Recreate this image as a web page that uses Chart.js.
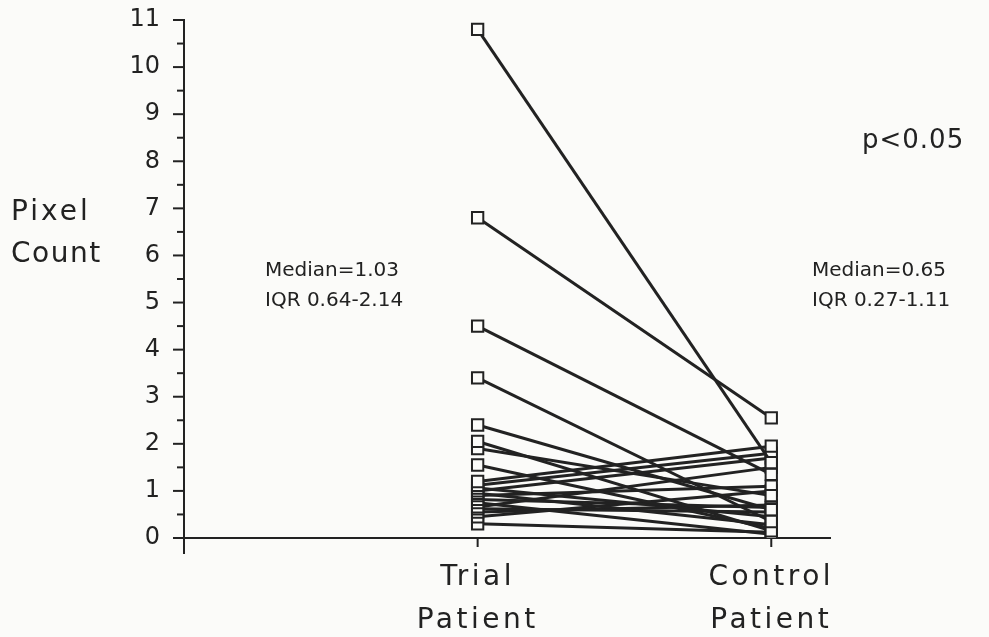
<html lang="en">
<head>
  <meta charset="UTF-8">
  <title>Pixel Count: Trial vs Control</title>
  <style>
    html, body { margin: 0; padding: 0; background: #fbfbf9; }
    #wrap { width: 989px; height: 637px; }
  </style>
  <script src="https://cdn.jsdelivr.net/npm/chart.js@4.4.1/dist/chart.umd.min.js"></script>
</head>
<body>
  <div id="wrap"><canvas id="pairChart" width="989" height="637"></canvas></div>
  <script>
    // paired readings, one entry per patient pair
    const categories = [["Trial", "Patient"], ["Control", "Patient"]]
    const trialValues = [10.8, 6.8, 4.5, 3.4, 2.4, 2.05, 1.9, 1.55, 1.2, 1.12, 1.06, 1.0, 0.95, 0.9, 0.82, 0.75, 0.66, 0.62, 0.55, 0.45, 0.3]
    const controlValues = [1.6, 2.55, 1.35, 0.35, 0.6, 0.15, 0.9, 0.2, 1.95, 1.8, 0.45, 1.7, 0.28, 1.1, 0.65, 0.08, 1.5, 0.55, 0.7, 1.0, 0.12]
    const yTickValues = [0, 1, 2, 3, 4, 5, 6, 7, 8, 9, 10, 11]
    const trialNote = ["Median=1.03", "IQR 0.64-2.14"]
    const controlNote = ["Median=0.65", "IQR 0.27-1.11"]
    const pNote = "p<0.05"
    const yTitle = ["Pixel", "Count"]

    const ink = "#222"
    const font = "'DejaVu Sans', Verdana, sans-serif"

    const datasets = trialValues.map((t, i) => ({
      data: [{ x: 1, y: t }, { x: 2, y: controlValues[i] }],
      borderColor: ink,
      borderWidth: 3,
      pointStyle: "rect",
      pointRadius: 8,
      pointBorderWidth: 2,
      pointBorderColor: ink,
      pointBackgroundColor: "#fbfbf9",
      tension: 0,
    }))

    // minor/major ticks, axis stub and the free text on the plot
    const decorations = {
      id: "decorations",
      beforeDraw(chart) {
        // wide spacing for the category labels (x ticks drawn before datasets)
        chart.ctx.letterSpacing = "3.5px"
      },
      afterDatasetsDraw(chart) {
        chart.ctx.letterSpacing = "0px"
      },
      afterDraw(chart) {
        const ctx = chart.ctx
        const xs = chart.scales.x
        const ys = chart.scales.y
        const left = chart.chartArea.left
        const bottom = chart.chartArea.bottom
        ctx.save()
        ctx.strokeStyle = ink
        ctx.lineWidth = 2
        // y axis runs a bit under the x axis
        ctx.beginPath()
        ctx.moveTo(left, bottom)
        ctx.lineTo(left, bottom + 16)
        ctx.stroke()
        for (let v = 0; v <= 11; v += 0.5) {
          const py = ys.getPixelForValue(v)
          const len = Number.isInteger(v) ? 11 : 7
          ctx.beginPath()
          ctx.moveTo(left - len, py)
          ctx.lineTo(left, py)
          ctx.stroke()
        }
        categories.forEach((c, i) => {
          const px = xs.getPixelForValue(i + 1)
          ctx.beginPath()
          ctx.moveTo(px, bottom)
          ctx.lineTo(px, bottom + 9)
          ctx.stroke()
        })

        ctx.fillStyle = ink
        ctx.textBaseline = "middle"
        ctx.textAlign = "left"
        ctx.letterSpacing = "3px"
        ctx.font = "28px " + font
        ctx.fillText(yTitle[0], 11, 213)
        ctx.letterSpacing = "1.5px"
        ctx.fillText(yTitle[1], 11, 255)
        ctx.letterSpacing = "0px"
        ctx.font = "20px " + font
        ctx.fillText(trialNote[0], 265, 271)
        ctx.fillText(trialNote[1], 265, 301)
        ctx.fillText(controlNote[0], 812, 271)
        ctx.fillText(controlNote[1], 812, 301)
        ctx.letterSpacing = "1px"
        ctx.font = "26px " + font
        ctx.fillText(pNote, 862, 141)
        ctx.restore()
      }
    }

    const chart = new Chart(document.getElementById("pairChart"), {
      type: "line",
      data: { datasets },
      options: {
        responsive: false,
        animation: false,
        layout: { autoPadding: false, padding: { top: 20, right: 159, left: 0, bottom: 0 } },
        plugins: { legend: { display: false }, tooltip: { enabled: false } },
        scales: {
          x: {
            type: "linear",
            min: 0,
            max: 2.2,
            afterFit: (s) => { s.height = 99 },
            afterBuildTicks: (s) => { s.ticks = categories.map((c, i) => ({ value: i + 1 })) },
            ticks: {
              color: ink,
              font: { family: font, size: 28, lineHeight: 1.55 },
              padding: 18,
              maxRotation: 0,
              callback: (v) => categories[v - 1],
            },
            grid: { display: false, drawTicks: false },
            border: { display: true, color: ink, width: 2 },
          },
          y: {
            min: 0,
            max: 11,
            afterFit: (s) => {
              s.width = 184
              s.paddingTop = 0
              s.paddingBottom = 0
            },
            afterBuildTicks: (s) => { s.ticks = yTickValues.map((v) => ({ value: v })) },
            ticks: {
              color: ink,
              font: { family: font, size: 24 },
              padding: 24,
              z: 1,
            },
            grid: { display: false, drawTicks: false },
            border: { display: true, color: ink, width: 2 },
          },
        },
      },
      plugins: [decorations],
    })
  </script>
</body>
</html>
